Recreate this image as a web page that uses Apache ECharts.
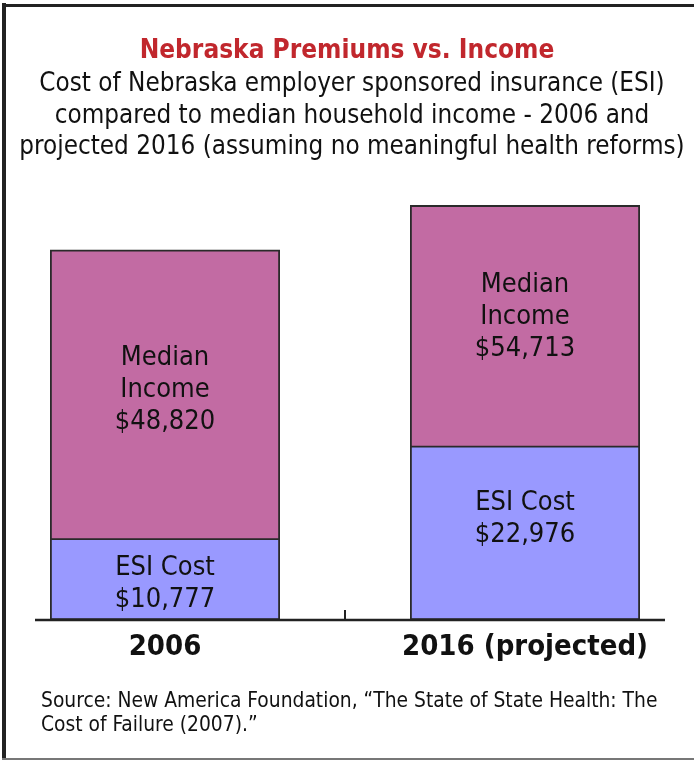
<!DOCTYPE html>
<html><head><meta charset="utf-8">
<script src="https://cdn.jsdelivr.net/npm/echarts@6/dist/echarts.min.js"></script>
<style>html,body{margin:0;padding:0;background:#fff}#c{width:694px;height:761px}</style>
</head><body><div id="c"></div>
<script>
const categories = ['2006', '2016 (projected)'];
const esiCost = [10777, 22976];
const medianIncome = [48820, 54713];
const titleText = 'Nebraska Premiums vs. Income';
const subtitleText = 'Cost of Nebraska employer sponsored insurance (ESI)\ncompared to median household income - 2006 and\nprojected 2016 (assuming no meaningful health reforms)';
const sourceText = 'Source: New America Foundation, \u201cThe State of State Health: The\nCost of Failure (2007).\u201d';

const FONT = 'DejaVu Sans Condensed, Liberation Sans Narrow, sans-serif';
const fmt = v => '$' + v.toLocaleString('en-US');
const incomeLabelPos = [['50%', '38%'], ['50%', '27%']];
const esiLabelPos = [['50%', '56%'], ['50%', '42%']];
const labelStyle = {color: '#111', fontFamily: FONT, fontSize: 27, lineHeight: 32, align: 'center', verticalAlign: 'middle'};

const chart = echarts.init(document.getElementById('c'), null, {renderer: 'canvas'});
chart.setOption({
  animation: false,
  backgroundColor: '#fff',
  title: [
    {text: titleText, left: 'center', top: 33, textStyle: {color: '#C1272D', fontWeight: 'bold', fontSize: 26, fontFamily: FONT}},
    {text: subtitleText, left: 347, top: 64, textAlign: 'center', textStyle: {color: '#111', fontWeight: 'normal', fontSize: 25.8, lineHeight: 31.5, fontFamily: FONT, align: 'center'}},
    {text: sourceText, left: 41, top: 690, padding: 0, textStyle: {color: '#111', fontWeight: 'normal', fontSize: 20.8, lineHeight: 23.5, fontFamily: FONT}}
  ],
  grid: {left: -15, width: 720, top: 165, bottom: 141, outerBoundsMode: 'none', containLabel: false},
  xAxis: {
    type: 'category', data: categories,
    axisLine: {show: false},
    axisTick: {show: true, inside: true, length: 10, lineStyle: {color: '#222', width: 2}},
    axisLabel: {interval: 0, color: '#111', fontWeight: 'bold', fontSize: 29, margin: 13, fontFamily: FONT, hideOverlap: false}
  },
  yAxis: {type: 'value', min: 0, max: 60000, show: false, splitLine: {show: false}},
  series: [
    {
      name: 'Median Income', type: 'bar', barWidth: 230, z: 2,
      itemStyle: {color: '#C26BA3', borderColor: '#2a2a2a', borderWidth: 1.8},
      data: medianIncome.map((v, i) => ({value: v, label: {show: true, position: incomeLabelPos[i], formatter: () => 'Median\nIncome\n' + fmt(v), ...labelStyle}}))
    },
    {
      name: 'ESI Cost', type: 'bar', barWidth: 230, barGap: '-100%', z: 3,
      itemStyle: {color: '#9999FF', borderColor: '#2a2a2a', borderWidth: 1.8},
      data: esiCost.map((v, i) => ({value: v, label: {show: true, position: esiLabelPos[i], formatter: () => 'ESI Cost\n' + fmt(v), ...labelStyle}}))
    }
  ],
  graphic: [
    {type: 'line', shape: {x1: 35, y1: 620, x2: 665, y2: 620}, style: {stroke: '#222', lineWidth: 2.5}, z: 10},
    {type: 'line', shape: {x1: 4, y1: 3, x2: 4, y2: 760}, style: {stroke: '#222', lineWidth: 4}, z: 10},
    {type: 'line', shape: {x1: 2, y1: 5.5, x2: 694, y2: 5.5}, style: {stroke: '#222', lineWidth: 3}, z: 10},
    {type: 'line', shape: {x1: 2, y1: 759, x2: 694, y2: 759}, style: {stroke: '#777', lineWidth: 2}, z: 10}
  ]
});
</script></body></html>
